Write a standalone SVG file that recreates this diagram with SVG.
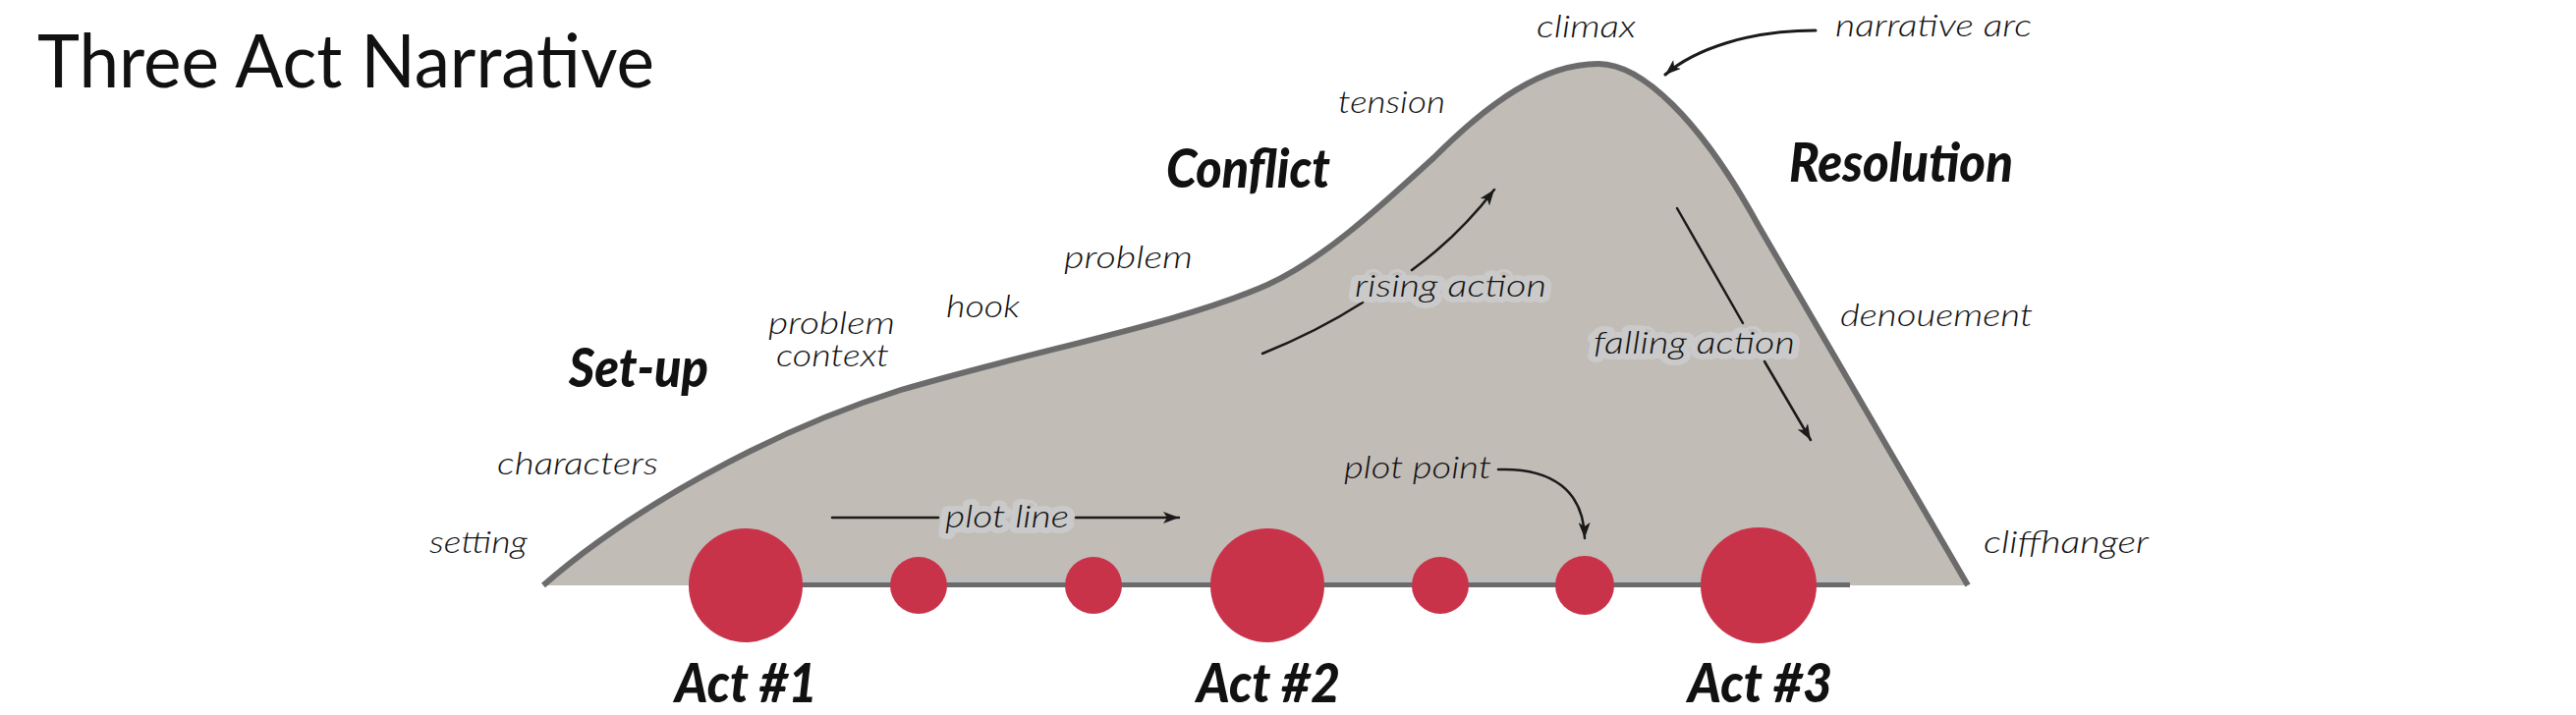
<svg xmlns="http://www.w3.org/2000/svg" width="2622" height="728" viewBox="0 0 2622 728">
<defs>
<marker id="ah" markerUnits="userSpaceOnUse" markerWidth="18" markerHeight="12" refX="16" refY="6" orient="auto">
<path d="M0,0 L16,6 L0,12 L4,6 z" fill="#1a1a1a"/>
</marker>
<style>
.title{font-family:Lato,"Open Sans","Liberation Sans",sans-serif;font-size:76px;fill:#111;}
.sec{font-family:Lato,"Open Sans","Liberation Sans",sans-serif;font-size:56px;font-weight:900;font-style:italic;fill:#111;}
.lbl{font-family:Lato,"Open Sans","Liberation Sans",sans-serif;font-size:31px;font-weight:300;font-style:italic;fill:#111;}
.halo{paint-order:stroke;stroke:#cbcaca;stroke-width:12px;stroke-linejoin:round;}
.arc{fill:#c2bcb7;stroke:none;}
.arcline{fill:none;stroke:#6b6b6b;stroke-width:6;stroke-linejoin:round;}
.node{fill:#c9334a;}
.conn{fill:none;stroke:#1a1a1a;stroke-width:2.5;stroke-linecap:round;}
</style>
</defs>
<rect width="2622" height="728" fill="#fff"/>
<text class="title" x="38" y="89" textLength="628" lengthAdjust="spacingAndGlyphs">Three Act Narrative</text>
<g id="narrative-arc">
<path class="arc" d="M553,596 C640,520 780,440 917,397 C1060,355 1200,330 1290,290 C1345,265 1400,215 1460,160 C1515,105 1570,65 1627,65 C1670,65 1730,120 1790,230 L2003,596 Z"/>
<path class="arcline" d="M553,596 C640,520 780,440 917,397 C1060,355 1200,330 1290,290 C1345,265 1400,215 1460,160 C1515,105 1570,65 1627,65 C1670,65 1730,120 1790,230 L2003,596"/>
</g>
<g id="plot-baseline">
<rect x="759" y="586" width="1124" height="8" fill="#bdbdbd"/>
<rect x="759" y="593" width="1124" height="5" fill="#6b6b6b"/>
</g>
<g id="connectors">
<path class="conn" d="M847,527 L955,527"/>
<path class="conn" d="M1095,527 L1200,527" marker-end="url(#ah)"/>
<path class="conn" d="M1285,360 Q1340,338 1387,308"/>
<path class="conn" d="M1437,275 Q1485,240 1521,193" marker-end="url(#ah)"/>
<path class="conn" d="M1707,212 L1774,329"/>
<path class="conn" d="M1796,368 L1843,448" marker-end="url(#ah)"/>
<path class="conn" style="stroke-width:3" d="M1848,31 C1780,31 1725,50 1695,76" marker-end="url(#ah)"/>
<path class="conn" d="M1525,478 C1580,476 1612,500 1613,548" marker-end="url(#ah)"/>
</g>
<g id="act1"><circle class="node" cx="759" cy="596" r="58"/><text class="sec" x="687" y="715" textLength="145" lengthAdjust="spacingAndGlyphs">Act #1</text></g>
<g id="point1"><circle class="node" cx="935" cy="596" r="29"/></g>
<g id="point2"><circle class="node" cx="1113" cy="596" r="29"/></g>
<g id="act2"><circle class="node" cx="1290" cy="596" r="58"/><text class="sec" x="1218" y="715" textLength="146" lengthAdjust="spacingAndGlyphs">Act #2</text></g>
<g id="point3"><circle class="node" cx="1466" cy="596" r="29"/></g>
<g id="point4"><circle class="node" cx="1613" cy="596" r="30"/></g>
<g id="act3"><circle class="node" cx="1790" cy="596" r="59"/><text class="sec" x="1718" y="715" textLength="147" lengthAdjust="spacingAndGlyphs">Act #3</text></g>
<g id="sections">
<text class="sec" x="579" y="394" textLength="142" lengthAdjust="spacingAndGlyphs">Set-up</text>
<text class="sec" x="1187" y="191" textLength="167" lengthAdjust="spacingAndGlyphs">Conflict</text>
<text class="sec" x="1821" y="185" textLength="228" lengthAdjust="spacingAndGlyphs">Resolution</text>
</g>
<g id="labels">
<text class="lbl" x="1564" y="38" textLength="101" lengthAdjust="spacingAndGlyphs">climax</text>
<text class="lbl" x="1868" y="37" textLength="200" lengthAdjust="spacingAndGlyphs">narrative arc</text>
<text class="lbl" x="1362" y="115" textLength="109" lengthAdjust="spacingAndGlyphs">tension</text>
<text class="lbl" x="1083" y="273" textLength="131" lengthAdjust="spacingAndGlyphs">problem</text>
<text class="lbl" x="963" y="323" textLength="75" lengthAdjust="spacingAndGlyphs">hook</text>
<text class="lbl" x="782" y="340" textLength="129" lengthAdjust="spacingAndGlyphs">problem</text>
<text class="lbl" x="790" y="373" textLength="115" lengthAdjust="spacingAndGlyphs">context</text>
<text class="lbl" x="506" y="483" textLength="164" lengthAdjust="spacingAndGlyphs">characters</text>
<text class="lbl" x="437" y="563" textLength="100" lengthAdjust="spacingAndGlyphs">setting</text>
<text class="lbl halo" x="962" y="537" textLength="126" lengthAdjust="spacingAndGlyphs">plot line</text>
<text class="lbl halo" x="1379" y="302" textLength="195" lengthAdjust="spacingAndGlyphs">rising action</text>
<text class="lbl halo" x="1622" y="360" textLength="205" lengthAdjust="spacingAndGlyphs">falling action</text>
<text class="lbl" x="1368" y="487" textLength="150" lengthAdjust="spacingAndGlyphs">plot point</text>
<text class="lbl" x="1873" y="332" textLength="196" lengthAdjust="spacingAndGlyphs">denouement</text>
<text class="lbl" x="2019" y="563" textLength="168" lengthAdjust="spacingAndGlyphs">cliffhanger</text>
</g>
</svg>
